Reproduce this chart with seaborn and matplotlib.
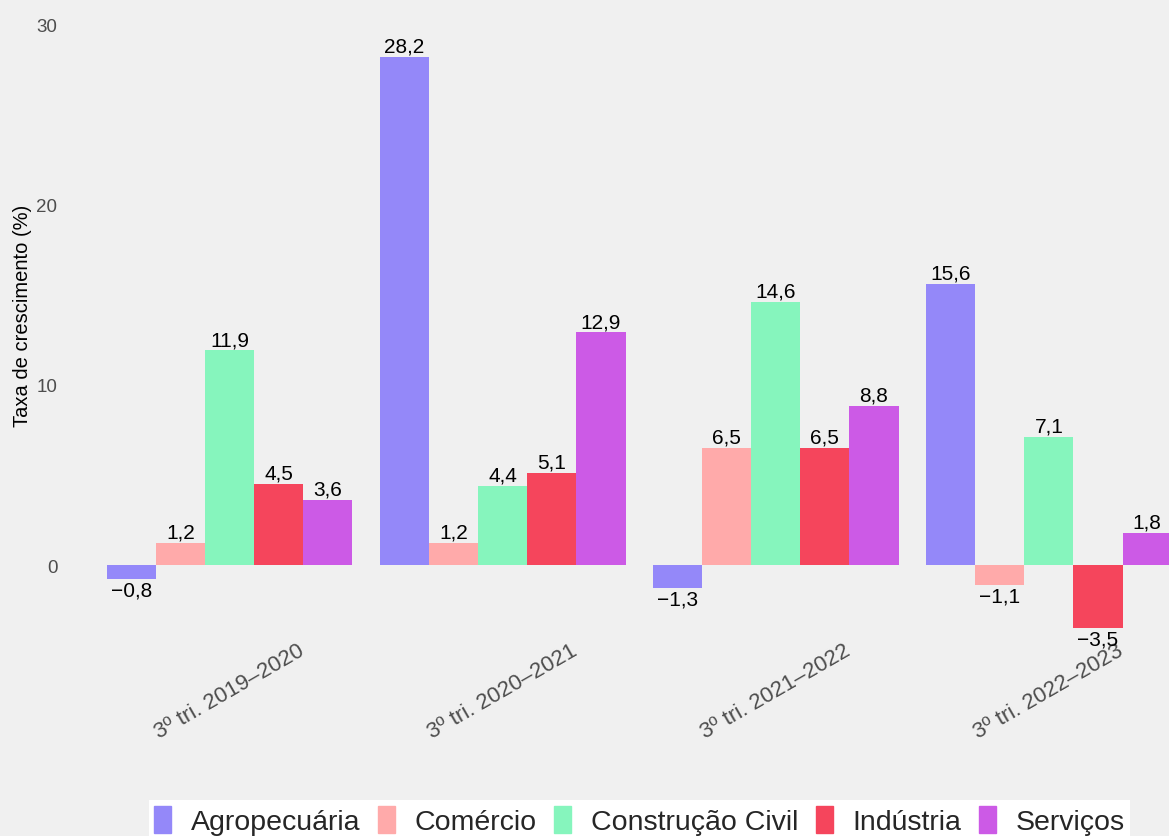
import pandas as pd
import matplotlib
matplotlib.use("Agg")
import matplotlib.pyplot as plt
import seaborn as sns

# --- dados ---
periodos = ["3º tri. 2019–2020", "3º tri. 2020–2021", "3º tri. 2021–2022", "3º tri. 2022–2023"]
setores = ["Agropecuária", "Comércio", "Construção Civil", "Indústria", "Serviços"]
agropecuaria = [-0.8, 28.2, -1.3, 15.6]
comercio = [1.2, 1.2, 6.5, -1.1]
construcao = [11.9, 4.4, 14.6, 7.1]
industria = [4.5, 5.1, 6.5, -3.5]
servicos = [3.6, 12.9, 8.8, 1.8]
cores = ["#9488F9", "#FFAAAA", "#86F5BD", "#F5455C", "#CC5AE6"]

valores = [agropecuaria, comercio, construcao, industria, servicos]
rows = []
for setor, vals in zip(setores, valores):
    for p, v in zip(periodos, vals):
        rows.append({"periodo": p, "setor": setor, "taxa": v})
df = pd.DataFrame(rows)

# --- figura ---
sns.set_theme(style="white")
plt.rcParams["font.family"] = ["Liberation Sans", "DejaVu Sans"]
bg = "#F0F0F0"

fig = plt.figure(figsize=(11.69, 8.37), dpi=100, facecolor=bg)
ax = fig.add_axes([0.0562, 1 - 632 / 837, 1 - 0.0562, 632 / 837])
ax.set_facecolor(bg)

sns.barplot(data=df, x="periodo", y="taxa", hue="setor", hue_order=setores,
            order=periodos, palette=cores, width=0.9, saturation=1,
            linewidth=0, edgecolor="none", ax=ax)

for cont in ax.containers:
    labels = [f"{v:.1f}".replace(".", ",").replace("-", "−") for v in cont.datavalues]
    ax.bar_label(cont, labels=labels, padding=1, fontsize=15, color="black")

ax.set_xlim(-0.6, 3.44)
ax.set_ylim(-3.66, 31.39)
ax.set_yticks([0, 10, 20, 30])
ax.tick_params(axis="y", labelsize=13.5, labelcolor="#4D4D4D", length=0, pad=6)
ax.tick_params(axis="x", labelsize=16, labelcolor="#4D4D4D", length=0, pad=6)
plt.setp(ax.get_xticklabels(), rotation=30, ha="center")
ax.set_xlabel("")
ax.set_ylabel("Taxa de crescimento (%)", fontsize=14.5, color="black", labelpad=3)
sns.despine(ax=ax, left=True, bottom=True)

ax.get_legend().remove()
handles = [plt.Rectangle((0, 0), 1, 1, color=c) for c in cores]
leg = fig.legend(handles, setores, loc="upper center", bbox_to_anchor=(0.547, 1 - 801 / 837),
                 ncol=5, fontsize=20.5, frameon=True, facecolor="white", edgecolor="none",
                 framealpha=1, fancybox=False, handlelength=0.6, handleheight=1.1,
                 handletextpad=0.7, columnspacing=0.6, borderpad=0.2, borderaxespad=0)

fig.savefig("out.png", dpi=100, facecolor=bg)
